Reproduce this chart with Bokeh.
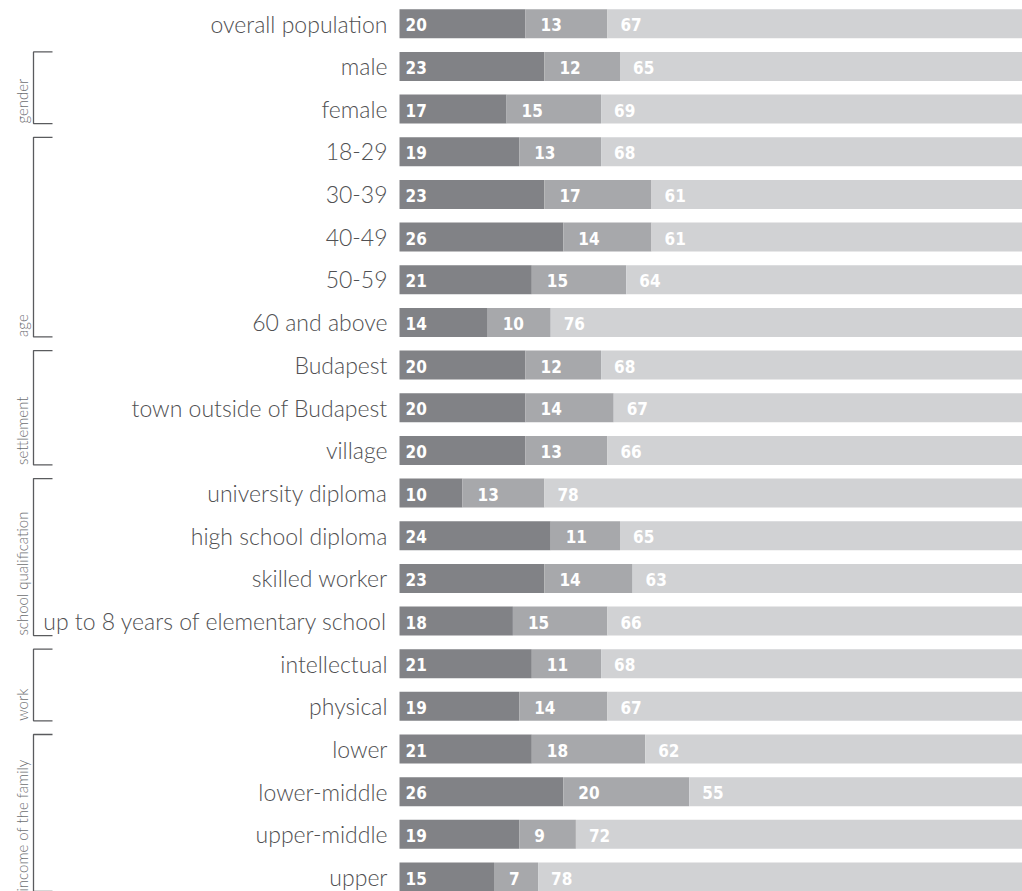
from bokeh.plotting import figure
from bokeh.models import Range1d, ColumnDataSource
from bokeh.core.properties import value
from bokeh.embed import file_html
from bokeh.resources import INLINE
import math

# --- data -----------------------------------------------------------------
rows = [
    "overall population", "male", "female",
    "18-29", "30-39", "40-49", "50-59", "60 and above",
    "Budapest", "town outside of Budapest", "village",
    "university diploma", "high school diploma", "skilled worker",
    "up to 8 years of elementary school",
    "intellectual", "physical",
    "lower", "lower-middle", "upper-middle", "upper",
]
first = [20, 23, 17, 19, 23, 26, 21, 14, 20, 20, 20, 10, 24, 23, 18, 21, 19, 21, 26, 19, 15]
second = [13, 12, 15, 13, 17, 14, 15, 10, 12, 14, 13, 13, 11, 14, 15, 11, 14, 18, 20, 9, 7]
third = [67, 65, 69, 68, 61, 61, 64, 76, 68, 67, 66, 78, 65, 63, 66, 68, 67, 62, 55, 72, 78]

group_names = ["gender", "age", "settlement", "school qualification", "work", "income of the family"]
group_first_row = [1, 3, 8, 11, 15, 17]
group_last_row = [2, 7, 10, 14, 16, 20]

# --- layout ---------------------------------------------------------------
W, H = 1022, 891
PX_PER_UNIT = 6.3       # horizontal scale
BAR_LEFT_PX = 399       # where the bars start
ROW_TOP_PX = 23.3       # centre of the first row
ROW_STEP_PX = 42.66     # spacing between rows
BAR_H = 29 / ROW_STEP_PX

C_DARK, C_MID, C_LIGHT = "#818286", "#a7a8ab", "#d1d2d4"
LABEL_FONT = value("Lato Light")
VALUE_FONT = value("DejaVu Sans Condensed")

n = len(rows)
x_start = -BAR_LEFT_PX / PX_PER_UNIT
x_end = (W - BAR_LEFT_PX) / PX_PER_UNIT
y_top = -ROW_TOP_PX / ROW_STEP_PX
y_bottom = (n - 1) + (H - (ROW_TOP_PX + (n - 1) * ROW_STEP_PX)) / ROW_STEP_PX


def px_to_x(px):
    return x_start + px / PX_PER_UNIT


p = figure(width=W, height=H, output_backend="svg", toolbar_location=None,
           x_range=Range1d(x_start, x_end), y_range=Range1d(y_bottom, y_top),
           min_border=0, outline_line_color=None)
p.axis.visible = False
p.xgrid.visible = False
p.ygrid.visible = False
p.background_fill_color = "white"
p.border_fill_color = "white"

ys = list(range(n))
s1 = [a + b for a, b in zip(first, second)]
s2 = [a + b for a, b in zip(s1, third)]

src = ColumnDataSource(dict(
    y=ys, rows=rows,
    f=first, s=second, t=third,
    s1=s1, s2=s2, zero=[0] * n,
    ft=[str(v) for v in first], st=[str(v) for v in second], tt=[str(v) for v in third],
))

# stacked segments
p.hbar(y="y", left="zero", right="f", height=BAR_H, fill_color=C_DARK, line_color=None, source=src)
p.hbar(y="y", left="f", right="s1", height=BAR_H, fill_color=C_MID, line_color=None, source=src)
p.hbar(y="y", left="s1", right="s2", height=BAR_H, fill_color=C_LIGHT, line_color=None, source=src)

# values inside the segments
common = dict(text_color="white", text_font=VALUE_FONT, text_font_style="bold",
              text_font_size="17px", text_baseline="middle", text_align="left",
              y_offset=1, source=src)
p.text(x="zero", y="y", text="ft", x_offset=6, **common)
p.text(x="f", y="y", text="st", x_offset=15, **common)
p.text(x="s1", y="y", text="tt", x_offset=13, **common)

# row labels
p.text(x="zero", y="y", text="rows", x_offset=-12, text_align="right",
       text_baseline="middle", text_font=LABEL_FONT, text_font_size="23px",
       text_color="#505052", source=src)

# group brackets
half = BAR_H / 2
bx = px_to_x(33)
tx = px_to_x(52)
xs_b, ys_b = [], []
for a, b in zip(group_first_row, group_last_row):
    xs_b.append([tx, bx, bx, tx])
    ys_b.append([a - half, a - half, b + half, b + half])
p.multi_line(xs=xs_b, ys=ys_b, line_color="#5a5b5e", line_width=1.3)

# group names, rotated, starting at the bracket bottom
p.text(x=[px_to_x(21)] * len(group_names),
       y=[b + half for b in group_last_row],
       text=group_names, angle=math.pi / 2,
       text_align="left", text_baseline="middle",
       text_font=LABEL_FONT, text_font_size="15px", text_color="#6d6e71")

open("out.html", "w").write(file_html(p, INLINE))
